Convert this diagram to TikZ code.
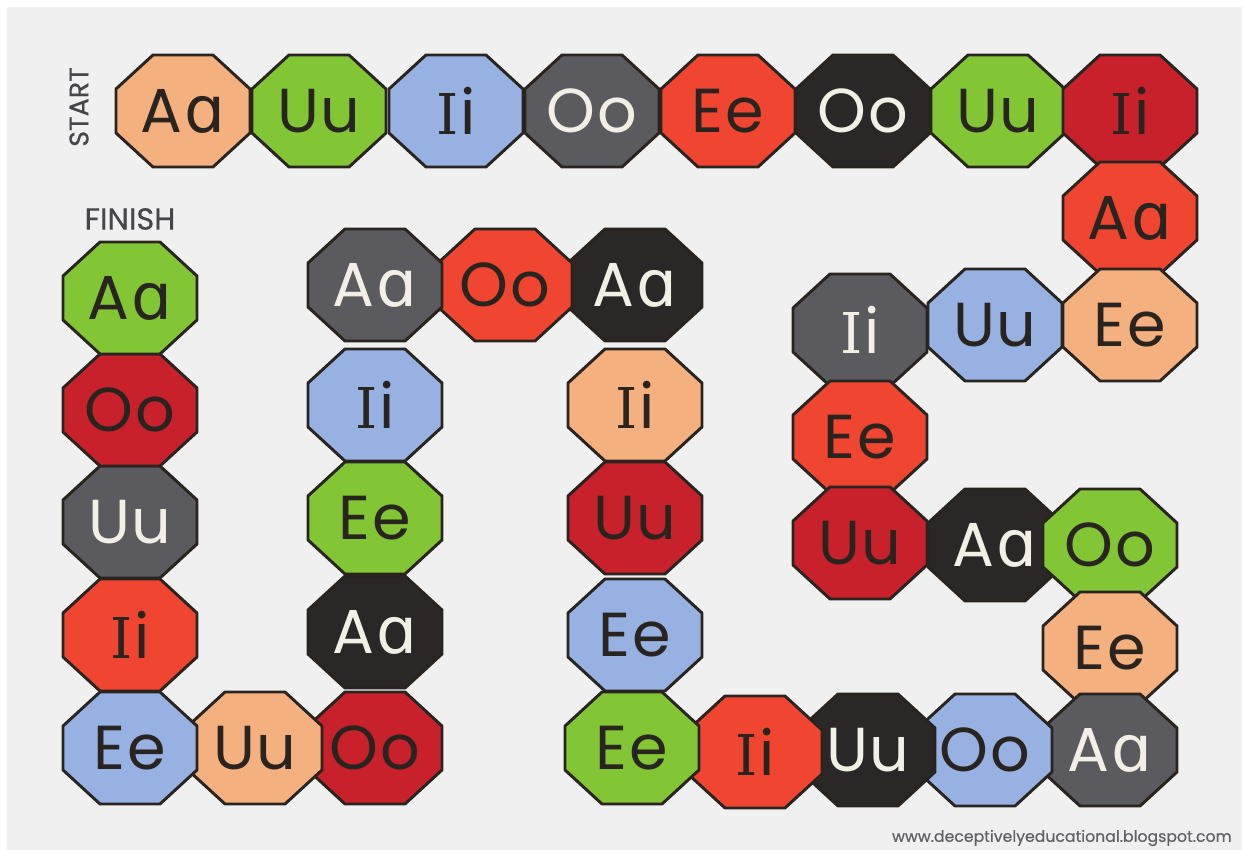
\documentclass[tikz,border=0pt]{standalone}
\usepackage{fontspec}
\setmainfont{Poppins}
\newfontfamily\serI{DejaVu Serif}
\newfontfamily\alphafont{DejaVu Sans}
\newfontfamily\labfont[FakeBold=0.5]{Poppins}
\definecolor{bgpanel}{HTML}{F0F0F0}
\definecolor{cpeach}{HTML}{F5B07F}
\definecolor{cgreen}{HTML}{82C635}
\definecolor{cblue}{HTML}{97B2E2}
\definecolor{cgray}{HTML}{5B5B5F}
\definecolor{cred}{HTML}{F04530}
\definecolor{cblack}{HTML}{2C2727}
\definecolor{cdred}{HTML}{C8212B}
\definecolor{tdark}{HTML}{2A2420}
\definecolor{tlight}{HTML}{F2EFE6}
\definecolor{labelgray}{HTML}{45454A}
\tikzset{
  octline/.style={draw=tdark, line width=2.5pt, line join=round},
  lbl/.style={font=\fontsize{53}{55}\selectfont, inner sep=0pt},
  sidelabel/.style={text=labelgray, inner sep=0pt},
  urllabel/.style={font=\labfont\fontsize{13.4}{15}\selectfont, text=labelgray!85, inner sep=0pt}
}
\newcommand\octa[7]{%
  \draw[octline, fill=#4] (#2-30,#3-56) -- (#2+30,#3-56) -- (#2+67,#3-22) -- (#2+67,#3+22)
    -- (#2+30,#3+56) -- (#2-30,#3+56) -- (#2-67,#3+22) -- (#2-67,#3-22) -- cycle;
  \node[lbl, text=#5] (#1) at (#2,#3) {#6\kern1.5pt#7};
}
\newcommand\capI{{\serI\fontsize{48}{50}\selectfont I}}
\newcommand\smallA{{\alphafont\fontsize{55}{57}\selectfont ɑ}}
\begin{document}
\begin{tikzpicture}[x=0.03cm, y=-0.03cm]
\useasboundingbox (0,0) rectangle (1245,850);
\fill[white] (0,0) rectangle (1245,850);
\fill[bgpanel] (7,7) rectangle (1242,850);
% top row
\octa{o1}{183}{111}{cpeach}{tdark}{A}{\smallA}
\octa{o2}{319}{111}{cgreen}{tdark}{U}{u}
\octa{o3}{456}{111}{cblue}{tdark}{\capI}{i}
\octa{o4}{592}{111}{cgray}{tlight}{O}{o}
\octa{o5}{728}{111}{cred}{tdark}{E}{e}
\octa{o6}{863}{111}{cblack}{tlight}{O}{o}
\octa{o7}{998}{111}{cgreen}{tdark}{U}{u}
\octa{o8}{1130}{111}{cdred}{tdark}{\capI}{i}
% right part
\octa{o9}{1130}{218}{cred}{tdark}{A}{\smallA}
\octa{o10}{1130}{325}{cpeach}{tdark}{E}{e}
\octa{o11}{995}{325}{cblue}{tdark}{U}{u}
\octa{o12}{860}{330}{cgray}{tlight}{\capI}{i}
\octa{o13}{860}{437}{cred}{tdark}{E}{e}
\octa{o14}{860}{543}{cdred}{tdark}{U}{u}
\octa{o15}{995}{545}{cblack}{tlight}{A}{\smallA}
\octa{o16}{1110}{545}{cgreen}{tdark}{O}{o}
\octa{o17}{1110}{648}{cpeach}{tdark}{E}{e}
\octa{o18}{1110}{750}{cgray}{tlight}{A}{\smallA}
\octa{o19}{985}{750}{cblue}{tdark}{O}{o}
\octa{o20}{868}{750}{cblack}{tlight}{U}{u}
\octa{o21}{755}{752}{cred}{tdark}{\capI}{i}
\octa{o22}{632}{748}{cgreen}{tdark}{E}{e}
\octa{o23}{635}{635}{cblue}{tdark}{E}{e}
\octa{o24}{635}{518}{cdred}{tdark}{U}{u}
\octa{o25}{635}{405}{cpeach}{tdark}{\capI}{i}
\octa{o26}{635}{285}{cblack}{tlight}{A}{\smallA}
\octa{o27}{505}{285}{cred}{tdark}{O}{o}
\octa{o28}{375}{285}{cgray}{tlight}{A}{\smallA}
\octa{o29}{375}{405}{cblue}{tdark}{\capI}{i}
\octa{o30}{375}{518}{cgreen}{tdark}{E}{e}
\octa{o31}{375}{632}{cblack}{tlight}{A}{\smallA}
\octa{o32}{375}{748}{cdred}{tdark}{O}{o}
\octa{o33}{255}{748}{cpeach}{tdark}{U}{u}
\octa{o34}{130}{748}{cblue}{tdark}{E}{e}
\octa{o35}{130}{635}{cred}{tdark}{\capI}{i}
\octa{o36}{130}{522}{cgray}{tlight}{U}{u}
\octa{o37}{130}{410}{cdred}{tdark}{O}{o}
\octa{o38}{130}{298}{cgreen}{tdark}{A}{\smallA}
% labels
\node[sidelabel, rotate=90, font=\labfont\fontsize{23}{25}\selectfont] (start) at (79,107) {START};
\node[sidelabel, font=\labfont\fontsize{26}{28}\selectfont] (finish) at (130,219) {FINISH};
\node[urllabel, anchor=east] (url) at (1232,838) {www.deceptivelyeducational.blogspot.com};
\end{tikzpicture}
\end{document}
